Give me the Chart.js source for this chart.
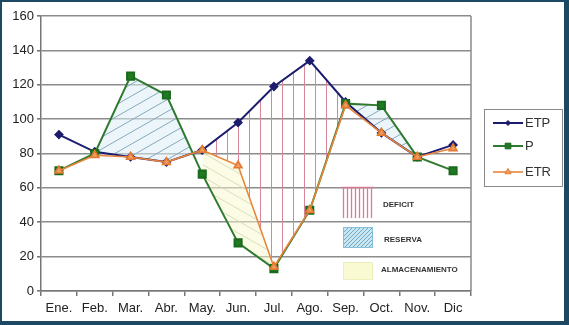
<!DOCTYPE html>
<html>
<head>
<meta charset="utf-8">
<script src="https://cdn.jsdelivr.net/npm/chart.js@4/dist/chart.umd.min.js"></script>
<style>
  html, body { margin: 0; padding: 0; background: #fff; }
  #frame {
    box-sizing: border-box;
    width: 569px; height: 325px;
    border-style: solid; border-color: #1d4863;
    border-width: 2px 5px 4px 2px;
    background: #fff;
  }
  #frame canvas { display: block; }
</style>
</head>
<body>
<div id="frame"><canvas id="balance" width="562" height="319"></canvas></div>
<script>
// Balance hídrico mensual (mm)
const months = ["Ene.", "Feb.", "Mar.", "Abr.", "May.", "Jun.", "Jul.", "Ago.", "Sep.", "Oct.", "Nov.", "Dic"];
const etp = [91, 81, 78, 75, 82, 98, 119, 134, 110, 92, 78, 85];
const prec = [70, 80, 125, 114, 68, 28, 13, 47, 109, 108, 78, 70];
const etr = [70, 79, 78, 75, 82, 73, 14, 47, 108, 92, 78, 83];
const yTicks = [0, 20, 40, 60, 80, 100, 120, 140, 160];

// zonas sombreadas: serie superior / inferior y rango de meses
const zones = [
  { name: "DEFICIT", upper: 0, lower: 2, from: 4, to: 8, pattern: "deficit" },
  { name: "RESERVA", upper: 1, lower: 0, from: 1, to: 4, pattern: "reserva" },
  { name: "RESERVA", upper: 1, lower: 0, from: 8, to: 10, pattern: "reserva" },
  { name: "ALMACENAMIENTO", upper: 2, lower: 1, from: 4, to: 6, pattern: "almac" }
];

// --- tramas ---
function makeTile(w, h, bg, stroke, draw) {
  const c = document.createElement("canvas");
  c.width = w; c.height = h;
  const g = c.getContext("2d");
  if (bg) { g.fillStyle = bg; g.fillRect(0, 0, w, h); }
  g.strokeStyle = stroke;
  g.lineWidth = 1;
  g.beginPath();
  draw(g, w, h);
  g.stroke();
  return c;
}
const tiles = {
  deficit: makeTile(11, 11, null, "#d8869a", (g, w, h) => { g.moveTo(5.5, 0); g.lineTo(5.5, h); }),
  reserva: makeTile(21, 12, "rgba(220,238,246,0.55)", "#88a9bd", (g, w, h) => {
    for (let n = -1; n <= 1; n++) { g.moveTo(0, h + n * h); g.lineTo(w, n * h); }
  }),
  almac: makeTile(21, 12, "rgba(250,250,205,0.5)", "rgba(210,214,180,0.8)", (g, w, h) => {
    for (let n = -1; n <= 1; n++) { g.moveTo(0, n * h); g.lineTo(w, h + n * h); }
  })
};

const zonesPlugin = {
  id: "zones",
  beforeDatasetsDraw(chart) {
    const ctx = chart.ctx;
    const area = chart.chartArea;
    zones.forEach(z => {
      const up = chart.getDatasetMeta(z.upper).data;
      const lo = chart.getDatasetMeta(z.lower).data;
      ctx.save();
      // debajo de la serie superior
      ctx.beginPath();
      ctx.moveTo(up[z.from].x, area.bottom);
      for (let i = z.from; i <= z.to; i++) ctx.lineTo(up[i].x, up[i].y);
      ctx.lineTo(up[z.to].x, area.bottom);
      ctx.closePath();
      ctx.clip();
      // encima de la serie inferior
      ctx.beginPath();
      ctx.moveTo(lo[z.from].x, area.top);
      for (let i = z.from; i <= z.to; i++) ctx.lineTo(lo[i].x, lo[i].y);
      ctx.lineTo(lo[z.to].x, area.top);
      ctx.closePath();
      ctx.clip();
      ctx.fillStyle = ctx.createPattern(tiles[z.pattern], "repeat");
      ctx.fillRect(area.left, area.top, area.right - area.left, area.bottom - area.top);
      ctx.restore();
    });
  },
  afterDraw(chart) {
    const ctx = chart.ctx;
    const a = chart.chartArea;
    ctx.save();
    // borde derecho del área de trazado
    ctx.strokeStyle = "#8a8a8a";
    ctx.lineWidth = 1.5;
    ctx.beginPath();
    ctx.moveTo(a.right, a.top);
    ctx.lineTo(a.right, a.bottom);
    ctx.stroke();

    // leyenda de las zonas
    const bx = Math.round(a.left + 301);
    const top = Math.round(a.top);
    // DEFICIT
    ctx.strokeStyle = "#d77c94";
    ctx.lineWidth = 1.3;
    ctx.beginPath();
    ctx.moveTo(bx, top + 171.5); ctx.lineTo(bx + 32, top + 171.5);
    for (let x = bx + 1.5; x <= bx + 32; x += 4) { ctx.moveTo(x, top + 171); ctx.lineTo(x, top + 202); }
    ctx.stroke();
    // RESERVA
    const ry = top + 211;
    ctx.lineWidth = 1;
    ctx.fillStyle = "#c9e6f1";
    ctx.fillRect(bx + 1, ry, 30, 21);
    ctx.save();
    ctx.beginPath(); ctx.rect(bx + 1, ry, 30, 21); ctx.clip();
    ctx.strokeStyle = "#6ea9c6";
    ctx.beginPath();
    for (let k = -30; k < 40; k += 4) { ctx.moveTo(bx + k, ry + 21); ctx.lineTo(bx + k + 21, ry); }
    ctx.stroke();
    ctx.restore();
    ctx.strokeStyle = "#86bfd8";
    ctx.strokeRect(bx + 1.5, ry + 0.5, 29, 20);
    // ALMACENAMIENTO
    const ay = top + 246;
    ctx.fillStyle = "#f9f9d2";
    ctx.fillRect(bx + 1, ay, 30, 18);
    ctx.strokeStyle = "#efefbd";
    ctx.strokeRect(bx + 1.5, ay + 0.5, 29, 17);

    ctx.fillStyle = "#333";
    ctx.font = "bold 8px 'Liberation Sans', Arial, sans-serif";
    ctx.textBaseline = "middle";
    ctx.fillText("DEFICIT", bx + 41, top + 189);
    ctx.fillText("RESERVA", bx + 42, top + 224);
    ctx.fillText("ALMACENAMIENTO", bx + 39, top + 254);

    // leyenda de las series
    const lx = 482, ly = 107;
    ctx.strokeStyle = "#8a8a8a";
    ctx.lineWidth = 1;
    ctx.strokeRect(lx + 0.5, ly + 0.5, 78, 77);
    ctx.font = "13px 'Liberation Sans', Arial, sans-serif";
    chart.data.datasets.forEach((ds, i) => {
      const y = ly + [14, 37, 63][i];
      ctx.strokeStyle = ds.borderColor;
      ctx.lineWidth = ds.borderWidth;
      ctx.beginPath();
      ctx.moveTo(lx + 9, y); ctx.lineTo(lx + 39, y);
      ctx.stroke();
      ctx.fillStyle = ds.pointBackgroundColor;
      ctx.strokeStyle = ds.pointBorderColor;
      ctx.lineWidth = 1;
      Chart.helpers.drawPoint(ctx, { pointStyle: ds.pointStyle, radius: ds.pointRadius - 1, borderWidth: 1 }, lx + 24, y);
      ctx.fillStyle = "#333";
      ctx.fillText(ds.label, lx + 41, y + 0.5);
    });
    ctx.restore();
  }
};

const tickFont = { family: "'Liberation Sans', Arial, sans-serif", size: 13 };

new Chart(document.getElementById("balance"), {
  type: "line",
  data: {
    labels: months,
    datasets: [
      {
        label: "ETP", data: etp, order: 2,
        borderColor: "#1c1c6e", borderWidth: 2,
        pointStyle: "rectRot", pointRadius: 3.5,
        pointBackgroundColor: "#1c1c6e", pointBorderColor: "#1c1c6e"
      },
      {
        label: "P", data: prec, order: 1,
        borderColor: "#2f7a2f", borderWidth: 2,
        pointStyle: "rect", pointRadius: 5,
        pointBackgroundColor: "#1f7a22", pointBorderColor: "#1a6a1d"
      },
      {
        label: "ETR", data: etr, order: 0,
        borderColor: "#e8853c", borderWidth: 1.6,
        pointStyle: "triangle", pointRadius: 4.5,
        pointBackgroundColor: "#f39a62", pointBorderColor: "#e07a30"
      }
    ]
  },
  plugins: [zonesPlugin],
  options: {
    responsive: false,
    animation: false,
    events: [],
    layout: { padding: { top: 14, right: 93, left: 0, bottom: 0 } },
    plugins: { legend: { display: false }, tooltip: { enabled: false } },
    elements: { line: { tension: 0, fill: false } },
    scales: {
      x: {
        offset: true,
        afterFit: s => { s.height = 30; },
        grid: { offset: true, drawOnChartArea: false, color: "#777", lineWidth: 1.5, tickLength: 5 },
        border: { color: "#777", width: 1.5 },
        ticks: { color: "#222", padding: 5, font: tickFont }
      },
      y: {
        min: 0, max: 160,
        afterFit: s => { s.width = 39; },
        afterBuildTicks: s => { s.ticks = yTicks.map(v => ({ value: v })); },
        grid: { color: "#8c8c8c", lineWidth: 1.6, tickLength: 4, tickColor: "#777" },
        border: { color: "#777", width: 1.5 },
        ticks: { color: "#222", padding: 3, font: tickFont }
      }
    }
  }
});
</script>
</body>
</html>
